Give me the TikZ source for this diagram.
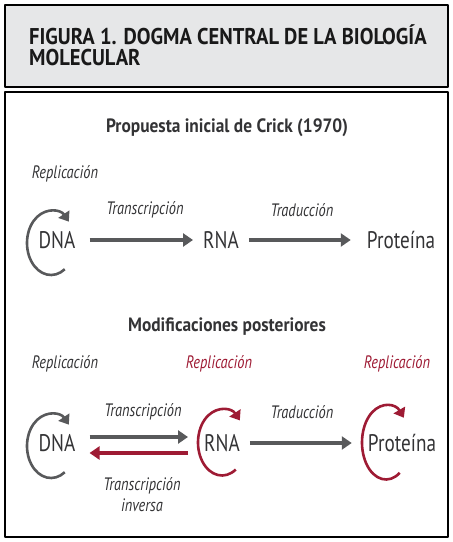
\documentclass[tikz,border=0pt]{standalone}
\usepackage{fontspec}
\setmainfont{PT Sans}[FakeStretch=0.8,BoldFeatures={FakeStretch=0.9}]
\usetikzlibrary{arrows.meta}
\definecolor{grisfondo}{HTML}{E6E7E8}
\definecolor{gristexto}{HTML}{333335}
\definecolor{grisflecha}{HTML}{58595B}
\definecolor{rojo}{HTML}{9E1B34}
\begin{document}
\begin{tikzpicture}[x=1pt,y=1pt,line join=round,
    flecha/.style={line width=4pt,-{Triangle[length=10pt,width=13pt]}},
    ciclo/.style={line width=2.6pt,-{Triangle[length=9pt,width=13pt]}},
    mol/.style={font=\fontsize{24}{24}\selectfont,text=gristexto,inner sep=0pt},
    proc/.style={font=\fontsize{18}{21}\selectfont\itshape,text=gristexto,inner sep=0pt,align=center},
    seccion/.style={font=\fontsize{19.3}{22}\selectfont\bfseries,text=gristexto,inner sep=0pt}]
	\useasboundingbox (0,0) rectangle (453,542);
	\draw[line width=1.2pt,fill=grisfondo] (5,455) rectangle (448,537);
	\draw[line width=1.2pt] (5,5) rectangle (448,450);
	\node[anchor=west,align=left,inner sep=0pt,font=\fontsize{22.8}{21}\selectfont\bfseries,text=black!90] (titulo) at (29,496.5) {FIGURA 1. DOGMA CENTRAL DE LA BIOLOGÍA\\MOLECULAR};
	% propuesta de Crick
	\node[seccion] (crick) at (227,414) {Propuesta inicial de Crick (1970)};
	\node[mol] (dnaA) at (57,302) {DNA};
	\node[mol] (rnaA) at (221,302) {RNA};
	\node[mol] (protA) at (401,302) {Proteína};
	\node[proc] (repA) at (65,368) {Replicación};
	\node[proc] (transA) at (145,332) {Transcripción};
	\node[proc] (tradA) at (302,332) {Traducción};
	\draw[flecha,grisflecha,shorten <=14pt,shorten >=10pt] (dnaA) -- (rnaA);
	\draw[flecha,grisflecha,shorten <=10pt,shorten >=16pt] (rnaA) -- (protA);
	% modificaciones
	\node[seccion] (modif) at (227,215) {Modificaciones posteriores};
	\node[mol] (dnaB) at (57,99) {DNA};
	\node[mol] (rnaB) at (222,99) {RNA};
	\node[mol] (protB) at (402,99) {Proteína};
	\node[proc] (repB) at (65,178) {Replicación};
	\node[proc,text=rojo] (repC) at (219,178) {Replicación};
	\node[proc,text=rojo] (repD) at (397,178) {Replicación};
	\node[proc] (transB) at (143,130) {Transcripción};
	\node[proc] (inv) at (142,47.5) {Transcripción\\inversa};
	\node[proc] (tradB) at (302,130) {Traducción};
	\draw[flecha,grisflecha,shorten <=14pt,shorten >=16pt] ([yshift=6pt]dnaB.east) -- ([yshift=6pt]rnaB.west);
	\draw[flecha,rojo,shorten <=16pt,shorten >=14pt] ([yshift=-10pt]rnaB.west) -- ([yshift=-10pt]dnaB.east);
	\draw[flecha,grisflecha,shorten <=10pt,shorten >=16pt] (rnaB) -- (protB);
	% ciclos de replicacion
	\foreach \n/\c/\dx/\dy/\ry in {dnaA/grisflecha/-6/-3/32,dnaB/grisflecha/-6/-3/32,rnaB/rojo/0/0.5/33,protB/rojo/-16/0.5/37}
		\draw[ciclo,\c] ([xshift=\dx pt,yshift=\dy pt]\n.center) ++(-55:24 and \ry) arc[start angle=-55,end angle=-318,x radius=24,y radius=\ry];
\end{tikzpicture}
\end{document}
